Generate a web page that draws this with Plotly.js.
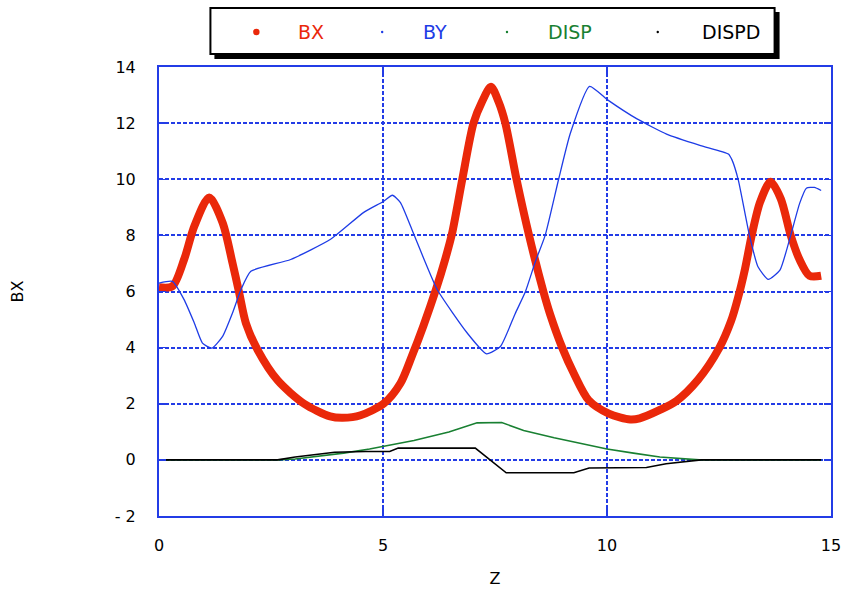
<!DOCTYPE html>
<html>
<head>
<meta charset="utf-8">
<script src="https://cdn.plot.ly/plotly-3.0.1.min.js"></script>
<style>html,body{margin:0;padding:0;background:#fff;}#chart{width:846px;height:597px;}</style>
</head>
<body>
<div id="chart"></div>
<script>
// ---- data ----
const seriesNames = ["BX", "BY", "DISP", "DISPD"];

const bxZ = [0, 0.3, 0.56, 0.79, 1.12, 1.42, 1.64, 1.79, 1.94, 2.2, 2.65, 3.24, 3.82, 4.1, 4.5, 5.02, 5.39, 5.65, 5.9, 6.18, 6.38, 6.54, 6.77, 7.02, 7.21, 7.41, 7.58, 7.73, 7.98, 8.26, 8.58, 8.73, 9.0, 9.26, 9.59, 10.04, 10.52, 10.73, 11.18, 11.55, 12.03, 12.51, 12.77, 12.92, 13.08, 13.23, 13.42, 13.65, 13.88, 14.1, 14.3, 14.52, 14.78];
const bxY = [6.15, 6.19, 7.14, 8.33, 9.35, 8.45, 7.02, 5.95, 4.87, 3.92, 2.83, 2.0, 1.55, 1.5, 1.59, 2.01, 2.73, 3.72, 4.77, 6.06, 7.1, 8.06, 10.0, 12.0, 12.76, 13.3, 12.76, 12.0, 10.0, 8.0, 6.0, 5.19, 4.0, 3.08, 2.13, 1.65, 1.44, 1.48, 1.78, 2.1, 2.85, 4.0, 4.95, 5.75, 6.8, 8.0, 9.2, 9.91, 9.3, 8.0, 7.13, 6.56, 6.56];

const byZ = [0, 0.3, 0.56, 0.79, 0.97, 1.18, 1.42, 1.64, 1.83, 2.05, 2.94, 3.83, 4.57, 5.0, 5.21, 5.39, 5.69, 6.21, 6.88, 7.31, 7.62, 7.95, 8.18, 8.40, 8.62, 8.92, 9.18, 9.61, 10.03, 10.67, 11.33, 12.09, 12.71, 12.79, 12.93, 13.18, 13.37, 13.6, 13.86, 14.1, 14.3, 14.45, 14.63, 14.78];
const byY = [6.3, 6.36, 5.71, 4.87, 4.16, 3.98, 4.4, 5.23, 6.07, 6.72, 7.14, 7.86, 8.82, 9.2, 9.43, 9.17, 8.03, 6.07, 4.52, 3.78, 4.04, 5.21, 6.0, 7.06, 8.0, 10.0, 11.63, 13.31, 12.81, 12.15, 11.61, 11.2, 10.9, 10.69, 9.98, 8.0, 6.88, 6.43, 6.76, 8.0, 9.14, 9.68, 9.71, 9.6];

const dispZ = [0, 2.65, 3.04, 3.53, 4.12, 4.7, 5.0, 5.69, 6.47, 7.1, 7.65, 8.14, 8.82, 9.6, 10.0, 10.59, 11.18, 12.06, 14.78];
const dispY = [0, 0, 0.03, 0.12, 0.24, 0.39, 0.48, 0.69, 0.99, 1.32, 1.33, 1.05, 0.79, 0.51, 0.39, 0.24, 0.1, 0, 0];

const dispdZ = [0, 2.65, 3.04, 3.53, 3.92, 4.61, 5.15, 5.34, 7.06, 7.75, 9.26, 9.6, 10.88, 11.32, 11.72, 12.1, 14.78];
const dispdY = [0, 0, 0.1, 0.19, 0.27, 0.3, 0.3, 0.42, 0.42, -0.46, -0.46, -0.29, -0.27, -0.14, -0.06, 0, 0];

const yTickVals = [-2, 0, 2, 4, 6, 8, 10, 12, 14];
const yTickText = ["- 2", "0", "2", "4", "6", "8", "10", "12", "14"];
const xTickVals = [0, 5, 10, 15];
const xTickText = ["0", "5", "10", "15"];

// ---- styles ----
const RED = "rgb(234,40,10)";
const BLUE = "rgb(30,60,230)";
const GREEN = "rgb(25,128,50)";
const BLACK = "rgb(0,0,0)";
const GRID = "rgb(35,60,230)";
const FONT = "DejaVu Sans, Verdana, sans-serif";

const traces = [
  {x: bxZ, y: bxY, name: seriesNames[0], mode: "lines", line: {color: RED, width: 8, shape: "spline", smoothing: 0.8}},
  {x: byZ, y: byY, name: seriesNames[1], mode: "lines", line: {color: BLUE, width: 1.3, shape: "spline", smoothing: 0.5}},
  {x: dispZ, y: dispY, name: seriesNames[2], mode: "lines", line: {color: GREEN, width: 1.6}},
  {x: dispdZ, y: dispdY, name: seriesNames[3], mode: "lines", line: {color: BLACK, width: 1.6}}
];

// plot-area pixel geometry -> paper conversion for legend decorations
const L = 158.5, R = 831.5, T = 67, B = 516;
const px = x => (x - L) / (R - L);
const py = y => (B - y) / (B - T);

const legendColors = [RED, BLUE, GREEN, BLACK];
const dotX = [256, 382, 507, 658];
const dotR = [3.2, 1.2, 1.2, 1.2];
const textX = [296, 421, 546, 700];
const legY = 32;

const shapes = [
  {type: "rect", xref: "paper", yref: "paper", x0: px(214), x1: px(780), y0: py(59), y1: py(12), fillcolor: "#000", line: {width: 0}, layer: "above"},
  {type: "rect", xref: "paper", yref: "paper", x0: px(210), x1: px(775), y0: py(54), y1: py(8), fillcolor: "#fff", line: {color: "#000", width: 2}, layer: "above"}
];
const annotations = [];
seriesNames.forEach((n, i) => {
  shapes.push({type: "circle", xref: "paper", yref: "paper",
    x0: px(dotX[i] - dotR[i]), x1: px(dotX[i] + dotR[i]), y0: py(legY + dotR[i]), y1: py(legY - dotR[i]),
    fillcolor: legendColors[i], line: {width: 0}, layer: "above"});
  annotations.push({xref: "paper", yref: "paper", x: px(textX[i]), y: py(legY), xanchor: "left", yanchor: "middle",
    text: n, showarrow: false, font: {family: FONT, size: 19, color: legendColors[i]}});
});

const axisCommon = {
  showline: true, linecolor: GRID, linewidth: 2, mirror: "ticks",
  ticks: "inside", ticklen: 7, tickcolor: GRID, tickwidth: 1.5,
  showgrid: true, gridcolor: GRID, gridwidth: 2, griddash: "4px,2px",
  zeroline: false, tickfont: {family: FONT, size: 16, color: "#000"}
};

const layout = {
  width: 846, height: 597,
  margin: {l: L, r: 846 - R, t: T, b: 597 - B},
  paper_bgcolor: "#fff", plot_bgcolor: "#fff",
  showlegend: false,
  xaxis: Object.assign({}, axisCommon, {
    range: [0, 15], tickmode: "array", tickvals: xTickVals, ticktext: xTickText,
    ticklabelstandoff: 14,
    title: {text: "Z", font: {family: FONT, size: 16, color: "#000"}, standoff: 19}
  }),
  yaxis: Object.assign({}, axisCommon, {
    range: [-2, 14], tickmode: "array", tickvals: yTickVals, ticktext: yTickText,
    ticklabelstandoff: 18,
    title: {text: "BX", font: {family: FONT, size: 16, color: "#000"}, standoff: 87}
  }),
  shapes: shapes,
  annotations: annotations
};

Plotly.newPlot("chart", traces, layout, {displayModeBar: false, staticPlot: true});
</script>
</body>
</html>
